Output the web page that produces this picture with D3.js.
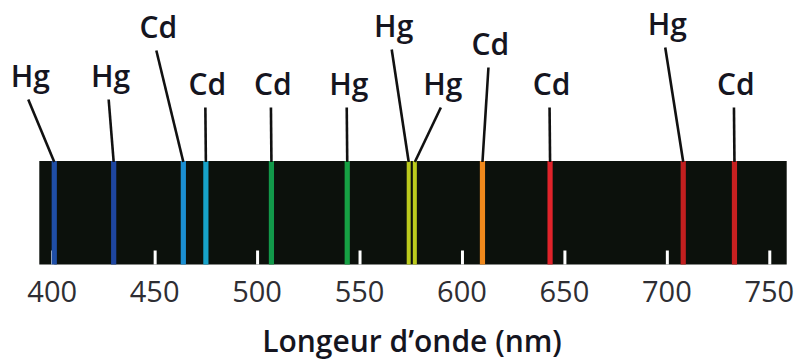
<!DOCTYPE html>
<html>
<head>
<meta charset="utf-8">
<script src="https://cdn.jsdelivr.net/npm/d3@7"></script>
<style>
  body { margin: 0; background: #fff; }
  svg { display: block; }
</style>
</head>
<body>
<svg id="chart" width="796" height="360"></svg>
<script>
// spectral lines of Hg and Cd
var elements    = ["Hg", "Hg", "Cd", "Cd", "Cd", "Hg", "Hg", "Hg", "Cd", "Cd", "Hg", "Cd"];
var wavelengths = [401, 430, 464, 475, 507, 544, 574, 577, 610, 643, 708, 733];
var lineColors  = ["#1f4ea6", "#1e46a0", "#1b8fd2", "#17a2c9", "#12994a", "#16a043",
                   "#bccb1d", "#bccb1d", "#f0891c", "#e0232a", "#c21f1f", "#c82020"];
var tickValues  = [400, 450, 500, 550, 600, 650, 700, 750];
var axisTitle   = "Longeur d\u2019onde (nm)";

// label placement: horizontal offset from the line (px) and text baseline (px)
var labelLayout = [
  {dx: -24, base: 87}, {dx: -3, base: 87}, {dx: -25, base: 38}, {dx: 1.5, base: 95},
  {dx: 1.5, base: 95}, {dx: 1.5, base: 95}, {dx: -15, base: 37}, {dx: 28, base: 95},
  {dx: 8, base: 55}, {dx: 1.5, base: 95}, {dx: -16, base: 35}, {dx: 1.5, base: 95}
];

var svg = d3.select("#chart");
var band = {top: 161, bottom: 264.5};

var x = d3.scaleLinear().domain([393.7, 758.5]).range([39.3, 786.7]);

var lines = wavelengths.map(function(w, i) {
  return {el: elements[i], nm: w, color: lineColors[i], lay: labelLayout[i]};
});

// black band
svg.append("rect")
  .attr("x", x.range()[0]).attr("y", band.top)
  .attr("width", x.range()[1] - x.range()[0])
  .attr("height", band.bottom - band.top)
  .attr("fill", "#0c110c");

// white ticks inside the band, via d3 axis
var axis = d3.axisTop(x).tickValues(tickValues).tickSize(14).tickFormat("");
var gAxis = svg.append("g").attr("transform", "translate(0," + band.bottom + ")").call(axis);
gAxis.select(".domain").remove();
gAxis.selectAll(".tick line").attr("stroke", "#fff").attr("stroke-width", 3);

// coloured emission lines (the close yellow pair is a bit thinner)
function isPair(d) { return d.nm > 570 && d.nm < 580; }
svg.selectAll("rect.em").data(lines).enter().append("rect")
  .attr("class", "em")
  .attr("x", function(d) { return x(d.nm) - (isPair(d) ? 2 : 2.6); })
  .attr("y", band.top)
  .attr("width", function(d) { return isPair(d) ? 4 : 5.2; })
  .attr("height", band.bottom - band.top)
  .attr("fill", function(d) { return d.color; });

// leader lines
svg.selectAll("line.lead").data(lines).enter().append("line")
  .attr("class", "lead")
  .attr("x1", function(d) { return x(d.nm) + d.lay.dx - 2; })
  .attr("y1", function(d) { return d.lay.base + 12.5; })
  .attr("x2", function(d) { return x(d.nm); })
  .attr("y2", band.top + 1)
  .attr("stroke", "#111")
  .attr("stroke-width", 2.6);

// element labels
svg.selectAll("text.lab").data(lines).enter().append("text")
  .attr("class", "lab")
  .attr("x", function(d) { return x(d.nm) + d.lay.dx; })
  .attr("y", function(d) { return d.lay.base; })
  .attr("text-anchor", "middle")
  .attr("font-family", "Open Sans")
  .attr("font-weight", 600)
  .attr("font-size", 30)
  .attr("fill", "#15151f")
  .text(function(d) { return d.el; });

// tick labels
svg.selectAll("text.tl").data(tickValues).enter().append("text")
  .attr("class", "tl")
  .attr("x", function(d) { return x(d); })
  .attr("y", 302)
  .attr("text-anchor", "middle")
  .attr("font-family", "Open Sans")
  .attr("font-size", 29)
  .attr("fill", "#2e2e33")
  .text(function(d) { return d; });

// axis title
svg.append("text")
  .attr("x", 412).attr("y", 352)
  .attr("text-anchor", "middle")
  .attr("font-family", "Open Sans")
  .attr("font-weight", 600)
  .attr("font-size", 30)
  .attr("fill", "#15151f")
  .text(axisTitle);
</script>
</body>
</html>
